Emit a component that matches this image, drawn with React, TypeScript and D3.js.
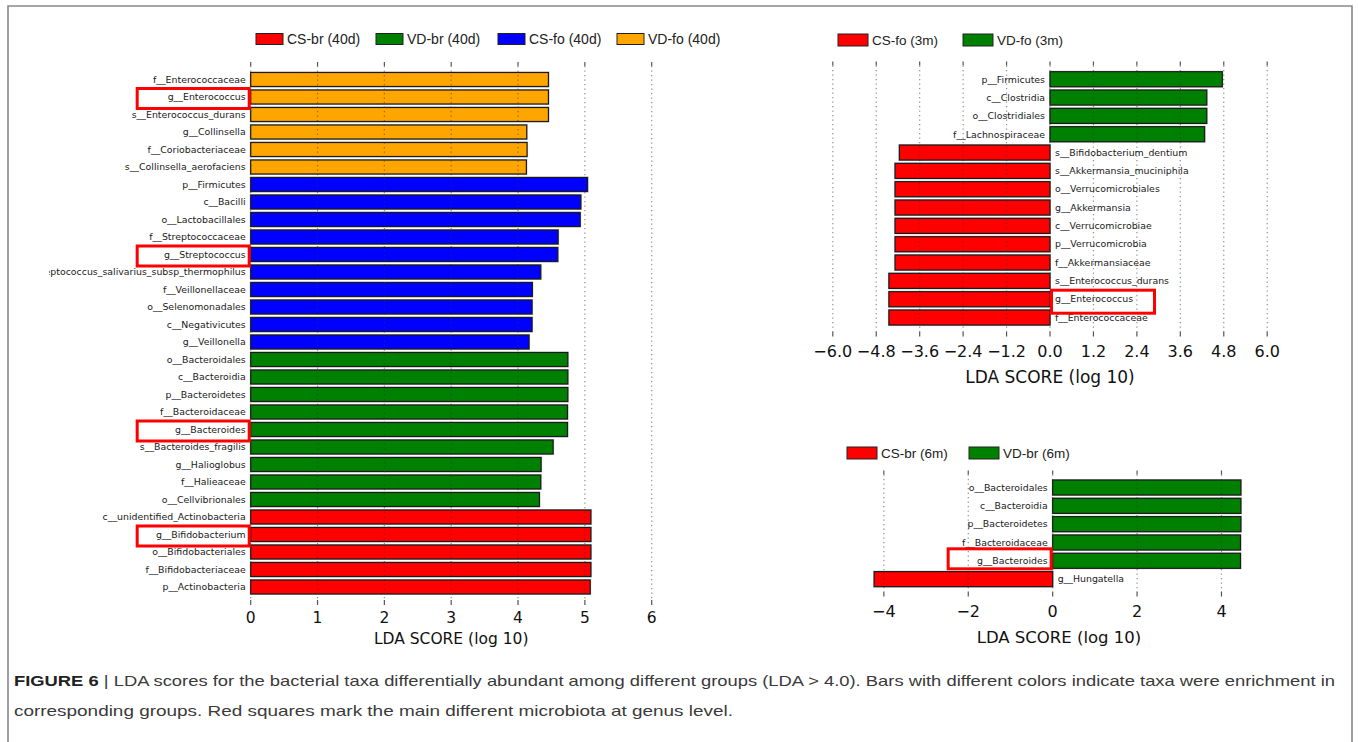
import * as d3 from "d3";

// LEfSe LDA bar charts, three panels + caption

const W = 1358;
const H = 742;

const RED = "#ff0000";
const GREEN = "#008000";
const BLUE = "#0000ff";
const ORANGE = "#ffa500";

// ---- panel A: 40 days ----
const leftLegend = ["CS-br (40d)", "VD-br (40d)", "CS-fo (40d)", "VD-fo (40d)"];
const leftLegendColors = [RED, GREEN, BLUE, ORANGE];

const leftLabels = [
  "f__Enterococcaceae",
  "g__Enterococcus",
  "s__Enterococcus_durans",
  "g__Collinsella",
  "f__Coriobacteriaceae",
  "s__Collinsella_aerofaciens",
  "p__Firmicutes",
  "c__Bacilli",
  "o__Lactobacillales",
  "f__Streptococcaceae",
  "g__Streptococcus",
  "s__Streptococcus_salivarius_subsp_thermophilus",
  "f__Veillonellaceae",
  "o__Selenomonadales",
  "c__Negativicutes",
  "g__Veillonella",
  "o__Bacteroidales",
  "c__Bacteroidia",
  "p__Bacteroidetes",
  "f__Bacteroidaceae",
  "g__Bacteroides",
  "s__Bacteroides_fragilis",
  "g__Halioglobus",
  "f__Halieaceae",
  "o__Cellvibrionales",
  "c__unidentified_Actinobacteria",
  "g__Bifidobacterium",
  "o__Bifidobacteriales",
  "f__Bifidobacteriaceae",
  "p__Actinobacteria",
];
const leftValues = [
  4.455, 4.455, 4.455, 4.13, 4.135, 4.125,
  5.04, 4.94, 4.93, 4.6, 4.595, 4.34, 4.215, 4.21, 4.21, 4.165,
  4.745, 4.745, 4.745, 4.74, 4.74, 4.525, 4.345, 4.34, 4.32,
  5.09, 5.09, 5.09, 5.09, 5.08,
];
const leftGroups = [
  ...Array(6).fill("VD-fo (40d)"),
  ...Array(10).fill("CS-fo (40d)"),
  ...Array(9).fill("VD-br (40d)"),
  ...Array(5).fill("CS-br (40d)"),
];
const leftMarked = ["g__Enterococcus", "g__Streptococcus", "g__Bacteroides", "g__Bifidobacterium"];
const leftTicks = [0, 1, 2, 3, 4, 5, 6];

// ---- panel B: fo 3 months ----
const foLegend = ["CS-fo (3m)", "VD-fo (3m)"];
const foLegendColors = [RED, GREEN];
const foLabels = [
  "p__Firmicutes",
  "c__Clostridia",
  "o__Clostridiales",
  "f__Lachnospiraceae",
  "s__Bifidobacterium_dentium",
  "s__Akkermansia_muciniphila",
  "o__Verrucomicrobiales",
  "g__Akkermansia",
  "c__Verrucomicrobiae",
  "p__Verrucomicrobia",
  "f__Akkermansiaceae",
  "s__Enterococcus_durans",
  "g__Enterococcus",
  "f__Enterococcaceae",
];
const foValues = [4.76, 4.33, 4.33, 4.27, -4.16, -4.28, -4.28, -4.28, -4.28, -4.28, -4.28, -4.45, -4.45, -4.45];
const foMarked = ["g__Enterococcus"];
const foTicks = [-6, -4.8, -3.6, -2.4, -1.2, 0, 1.2, 2.4, 3.6, 4.8, 6];

// ---- panel C: br 6 months ----
const brLegend = ["CS-br (6m)", "VD-br (6m)"];
const brLegendColors = [RED, GREEN];
const brLabels = [
  "o__Bacteroidales",
  "c__Bacteroidia",
  "p__Bacteroidetes",
  "f__Bacteroidaceae",
  "g__Bacteroides",
  "g__Hungatella",
];
const brValues = [4.46, 4.46, 4.46, 4.45, 4.45, -4.23];
const brMarked = ["g__Bacteroides"];
const brTicks = [-4, -2, 0, 2, 4];

const captionLine1 =
  "LDA scores for the bacterial taxa differentially abundant among different groups (LDA > 4.0). Bars with different colors indicate taxa were enrichment in";
const captionLine2 =
  "corresponding groups. Red squares mark the main different microbiota at genus level.";

const LABEL_FONT = "'DejaVu Sans', sans-serif";
const LEGEND_FONT = "'Liberation Sans', Arial, sans-serif";

type PanelProps = {
  id: string;
  labels: string[];
  values: number[];
  colors: string[];
  marked: string[];
  domain: [number, number];
  range: [number, number];
  ticks: number[];
  tickFmt: (v: number) => string;
  r0: number;
  r1: number;
  padIn: number;
  padOut: number;
  topTickY: number;
  botTickY: number;
  tickLabelY: number;
  titleY: number;
  axisFont: number;
  titleFont: number;
  legend: string[];
  legendColors: string[];
  legendX: number[];
  legendY: number;
  swW: number;
  swH: number;
  legendFont: number;
  boxW: number;
  boxH: number;
  boxDy: number;
  clipLeft?: number;
};

function Panel(p: PanelProps) {
  const y = d3
    .scaleBand<string>()
    .domain(p.labels)
    .range([p.r0, p.r1])
    .paddingInner(p.padIn)
    .paddingOuter(p.padOut);
  const x = d3.scaleLinear().domain(p.domain).range(p.range);
  const x0 = x(0);
  const bh = y.bandwidth();
  const rows = p.labels.map((l, i) => ({ label: l, value: p.values[i], color: p.colors[i] }));

  return (
    <g>
      {p.clipLeft !== undefined && (
        <defs>
          <clipPath id={`clip-${p.id}`}>
            <rect x={p.clipLeft} y={0} width={W} height={H} />
          </clipPath>
        </defs>
      )}
      {/* legend */}
      {p.legend.map((name, i) => (
        <g key={name}>
          <rect
            x={p.legendX[i]}
            y={p.legendY - p.swH / 2}
            width={p.swW}
            height={p.swH}
            fill={p.legendColors[i]}
            stroke="#222"
            strokeWidth={1}
          />
          <text
            x={p.legendX[i] + p.swW + 4}
            y={p.legendY}
            dy="0.36em"
            fontFamily={LEGEND_FONT}
            fontSize={p.legendFont}
            fill="#222"
          >
            {name}
          </text>
        </g>
      ))}
      {/* bars */}
      {rows.map((d) => {
        const bx = Math.min(x0, x(d.value));
        const bw = Math.abs(x(d.value) - x0);
        const by = y(d.label)!;
        return (
          <g key={d.label}>
            <rect x={bx - 1} y={by - 1} width={bw + 2} height={bh + 2} fill="#c4c4c4" />
            <rect x={bx} y={by} width={bw} height={bh} fill={d.color} stroke="#1a1a1a" strokeWidth={1.2} />
          </g>
        );
      })}
      {/* grid + ticks */}
      {p.ticks.map((t) => (
        <g key={t}>
          <line
            x1={x(t)}
            x2={x(t)}
            y1={p.topTickY + 4}
            y2={p.botTickY}
            stroke="#333"
            strokeOpacity={0.55}
            strokeWidth={1.2}
            strokeDasharray="1.3,3.2"
          />
          <line x1={x(t)} x2={x(t)} y1={p.topTickY} y2={p.topTickY + 4} stroke="#555" strokeWidth={1.2} />
          <line x1={x(t)} x2={x(t)} y1={p.botTickY} y2={p.botTickY + 5} stroke="#555" strokeWidth={1.2} />
          <text
            x={x(t)}
            y={p.tickLabelY}
            dy="0.36em"
            textAnchor="middle"
            fontFamily={LABEL_FONT}
            fontSize={p.axisFont}
            fill="#111"
          >
            {p.tickFmt(t)}
          </text>
        </g>
      ))}
      <text
        x={(p.range[0] + p.range[1]) / 2}
        y={p.titleY}
        dy="0.36em"
        textAnchor="middle"
        fontFamily={LABEL_FONT}
        fontSize={p.titleFont}
        fill="#111"
      >
        LDA SCORE (log 10)
      </text>
      {/* taxa labels */}
      <g clipPath={p.clipLeft !== undefined ? `url(#clip-${p.id})` : undefined}>
        {rows.map((d) => (
          <text
            key={d.label}
            x={d.value >= 0 ? x0 - 5 : x0 + 5}
            y={y(d.label)! + bh / 2}
            dy="0.35em"
            textAnchor={d.value >= 0 ? "end" : "start"}
            fontFamily={LABEL_FONT}
            fontSize={9.4}
            fill="#1a1a1a"
          >
            {d.label}
          </text>
        ))}
      </g>
      {/* red squares on genus-level taxa */}
      {rows
        .filter((d) => p.marked.includes(d.label))
        .map((d) => {
          const cy = y(d.label)! + bh / 2 + p.boxDy;
          const bx = d.value >= 0 ? x0 - p.boxW + 1.5 : x0 + 1.5;
          return (
            <rect
              key={"box-" + d.label}
              x={bx}
              y={cy - p.boxH / 2}
              width={p.boxW - 3}
              height={p.boxH}
              fill="none"
              stroke={RED}
              strokeWidth={3}
            />
          );
        })}
    </g>
  );
}

export default function App() {
  const fmtInt = d3.format("d");
  const fmt1 = d3.format(".1f");
  const leftColorMap = new Map(leftLegend.map((g, i) => [g, leftLegendColors[i]]));
  const leftColors = leftGroups.map((g) => leftColorMap.get(g)!);
  const foColors = foValues.map((v) => (v >= 0 ? GREEN : RED));
  const brColors = brValues.map((v) => (v >= 0 ? GREEN : RED));

  return (
    <svg
      width={W}
      height={H}
      style={{ position: "absolute", left: 0, top: 0, background: "#fff" }}
    >
      <rect x={0} y={0} width={W} height={H} fill="#fff" />
      {/* frame */}
      <path d={`M8,${H + 2} V6 H1352 V${H + 2}`} fill="none" stroke="#888" strokeWidth={1.6} />

      <Panel
        id="a"
        labels={leftLabels}
        values={leftValues}
        colors={leftColors}
        marked={leftMarked}
        domain={[0, 6]}
        range={[250.7, 651.7]}
        ticks={leftTicks}
        tickFmt={fmtInt}
        r0={70.75}
        r1={595.75}
        padIn={0.2}
        padOut={0.1}
        topTickY={62}
        botTickY={600}
        tickLabelY={617}
        titleY={638}
        axisFont={15.5}
        titleFont={15.5}
        legend={leftLegend}
        legendColors={leftLegendColors}
        legendX={[256, 376, 498, 617]}
        legendY={39}
        swW={27}
        swH={11}
        legendFont={14}
        boxW={115}
        boxH={20}
        boxDy={1.5}
        clipLeft={49}
      />
      <Panel
        id="b"
        labels={foLabels}
        values={foValues}
        colors={foColors}
        marked={foMarked}
        domain={[-6, 6]}
        range={[832.8, 1267.2]}
        ticks={foTicks}
        tickFmt={fmt1}
        r0={70.05}
        r1={326.7}
        padIn={0.18}
        padOut={0.09}
        topTickY={61.5}
        botTickY={331.5}
        tickLabelY={351.7}
        titleY={376.7}
        axisFont={16}
        titleFont={17}
        legend={foLegend}
        legendColors={foLegendColors}
        legendX={[838, 963]}
        legendY={40}
        swW={30}
        swH={12}
        legendFont={13.5}
        boxW={106}
        boxH={23}
        boxDy={2.5}
      />
      <Panel
        id="c"
        labels={brLabels}
        values={brValues}
        colors={brColors}
        marked={brMarked}
        domain={[-4.3, 4.6]}
        range={[871.2, 1246.8]}
        ticks={brTicks}
        tickFmt={fmtInt}
        r0={478.35}
        r1={588.3}
        padIn={0.18}
        padOut={0.09}
        topTickY={470.5}
        botTickY={591.5}
        tickLabelY={611.7}
        titleY={636.7}
        axisFont={16}
        titleFont={16.5}
        legend={brLegend}
        legendColors={brLegendColors}
        legendX={[847, 969]}
        legendY={453}
        swW={30}
        swH={12}
        legendFont={13.5}
        boxW={106}
        boxH={20}
        boxDy={-2}
      />

      {/* caption */}
      <text
        x={14}
        y={686}
        fontFamily={LEGEND_FONT}
        fontSize={15}
        fill="#3a3a3a"
        textLength={1321}
        lengthAdjust="spacingAndGlyphs"
      >
        <tspan fontWeight="bold" fill="#222">FIGURE 6</tspan>
        <tspan> | </tspan>
        <tspan>{captionLine1}</tspan>
      </text>
      <text
        x={14}
        y={716}
        fontFamily={LEGEND_FONT}
        fontSize={15}
        fill="#3a3a3a"
        textLength={719}
        lengthAdjust="spacingAndGlyphs"
      >
        {captionLine2}
      </text>
    </svg>
  );
}
